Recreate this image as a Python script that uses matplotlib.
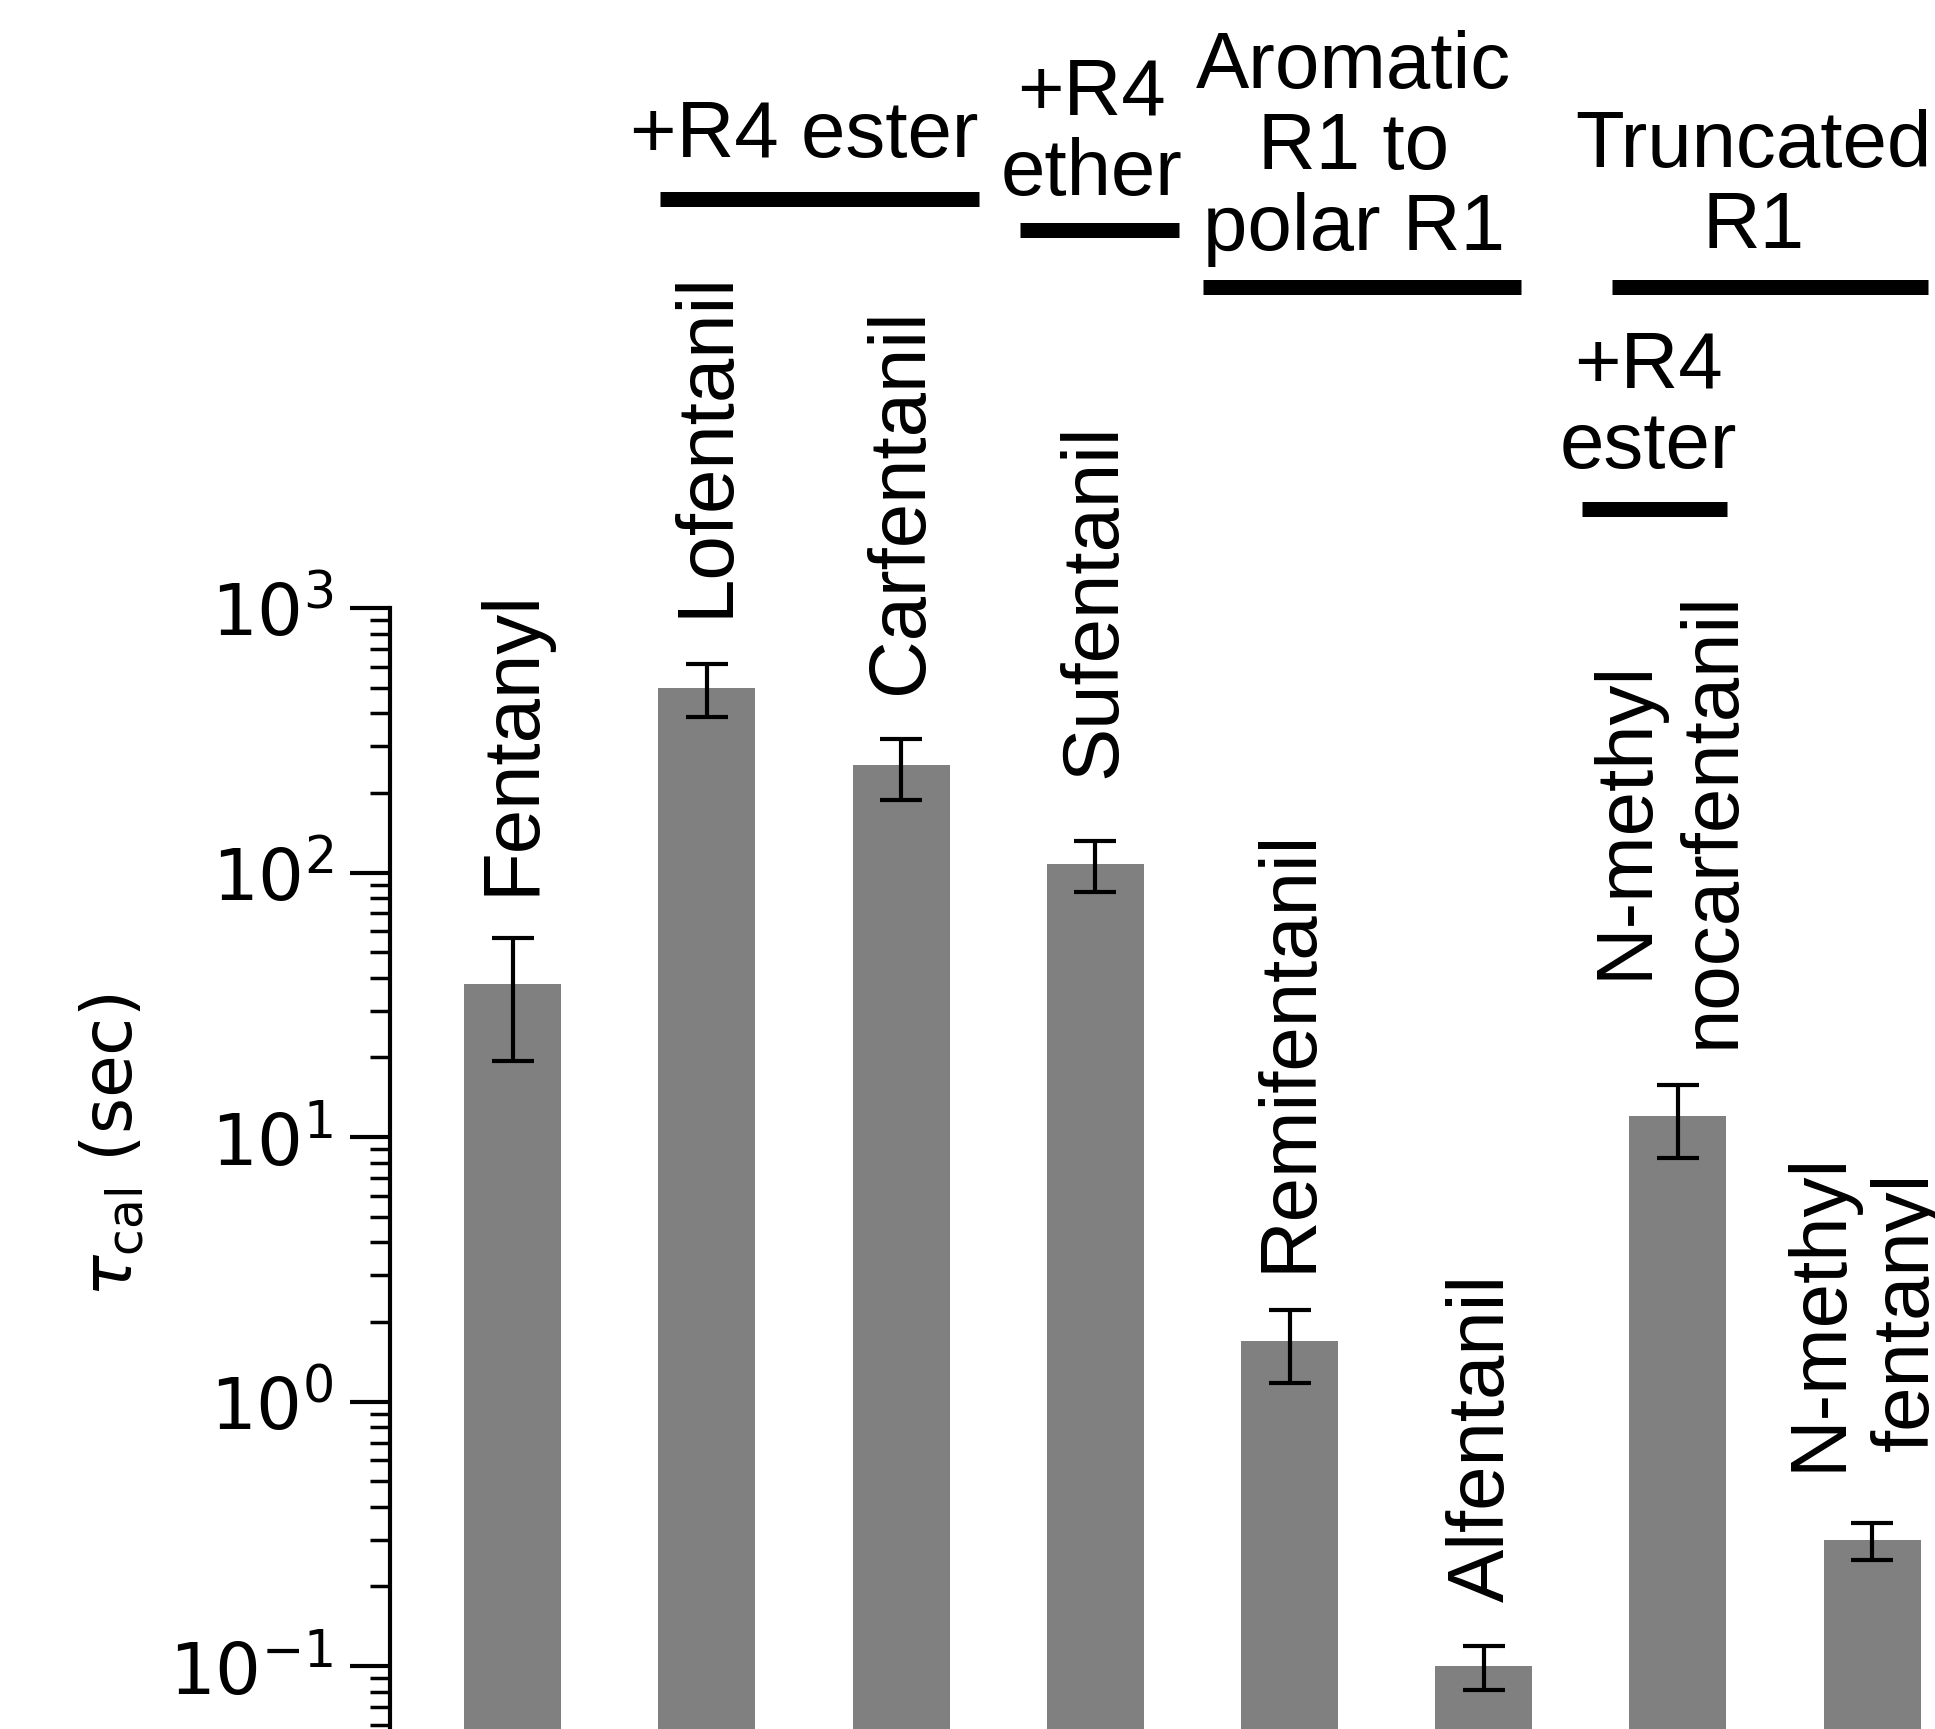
import matplotlib
matplotlib.use('Agg')
import matplotlib.pyplot as plt
import matplotlib.transforms as mtransforms
from matplotlib.ticker import LogLocator, NullFormatter
import numpy as np

# Calculated residence times per compound (seconds).
compounds = ['Fentanyl', 'Lofentanil', 'Carfentanil', 'Sufentanil',
             'Remifentanil', 'Alfentanil', 'N-methyl\nnocarfentanil',
             'N-methyl\nfentanyl']
tau_cal = [38, 500, 254, 108, 1.69, 0.10, 12.0, 0.30]
tau_err = [18.7, 112, 66, 23.7, 0.52, 0.019, 3.7, 0.048]

# Structural-change groups drawn above the bars.
group_labels = ['+R4 ester', '+R4\nether', 'Aromatic\nR1 to\npolar R1',
                'Truncated\nR1', '+R4\nester']
group_spans = [(0.76, 2.40), (2.61, 3.43), (3.555, 5.19), (5.66, 7.29),
               (5.505, 6.255)]

# Layout (pixels from top of the figure for the last text line, text x in bar units).
group_text_x = [1.50, 2.98, 4.33, 6.39, 5.85]
group_text_base = [157, 195, 250, 248, 468]
group_line_y = [199, 229.5, 287, 287, 509]
label_pad = [31, 34, 32, 45, 28, 32, 27, 37]

W, H = 1935, 1729
DPI = 100
FS = 57.5
fig = plt.figure(figsize=(W / DPI, H / DPI), dpi=DPI)
ax = fig.add_axes([390 / W, 0, (W - 390) / W, (H - 608) / H])

x = np.arange(len(compounds))
ax.bar(x, tau_cal, width=0.5, color='#808080', yerr=tau_err,
       error_kw=dict(ecolor='black', elinewidth=3, capsize=15, capthick=3))

ax.set_yscale('log')
ax.set_ylim(10 ** -1.238, 1000)
ax.set_xlim(-0.632, 7.324)
ax.yaxis.set_minor_locator(LogLocator(base=10, subs=np.arange(2, 10)))
ax.yaxis.set_minor_formatter(NullFormatter())

for side in ['top', 'right', 'bottom']:
    ax.spines[side].set_visible(False)
ax.spines['left'].set_linewidth(3)
ax.tick_params(axis='y', which='major', length=28.8, width=3,
               labelsize=52, pad=12)
ax.tick_params(axis='y', which='minor', length=14.4, width=2.5)
ax.tick_params(axis='x', bottom=False, labelbottom=False)

# Compound names above the error bars.
for i, name in enumerate(compounds):
    two_line = '\n' in name
    ax.annotate(name, xy=(x[i], tau_cal[i] + tau_err[i]),
                xytext=(-6 if two_line else 0, label_pad[i]),
                textcoords='offset points',
                rotation=90, ha='center', va='bottom', multialignment='center',
                fontsize=FS, family='Liberation Sans', linespacing=1.22)

# Group annotations with bars.
trans = mtransforms.blended_transform_factory(ax.transData, fig.transFigure)
for lab, span, tx, tb, ly in zip(group_labels, group_spans, group_text_x,
                                  group_text_base, group_line_y):
    ax.text(tx, 1 - tb / H, lab, transform=trans, ha='center', va='baseline',
            multialignment='center', fontsize=FS, family='Liberation Sans',
            linespacing=1.1)
    ax.plot(span, [1 - ly / H] * 2, transform=trans, color='black', lw=10.8,
            solid_capstyle='butt', clip_on=False)

fig.text(112 / W, 1 - 1145 / H, r'$\tau_{\mathrm{cal}}$ (sec)', rotation=90,
         ha='center', va='center', fontsize=50)

fig.savefig('out.png', dpi=DPI)
